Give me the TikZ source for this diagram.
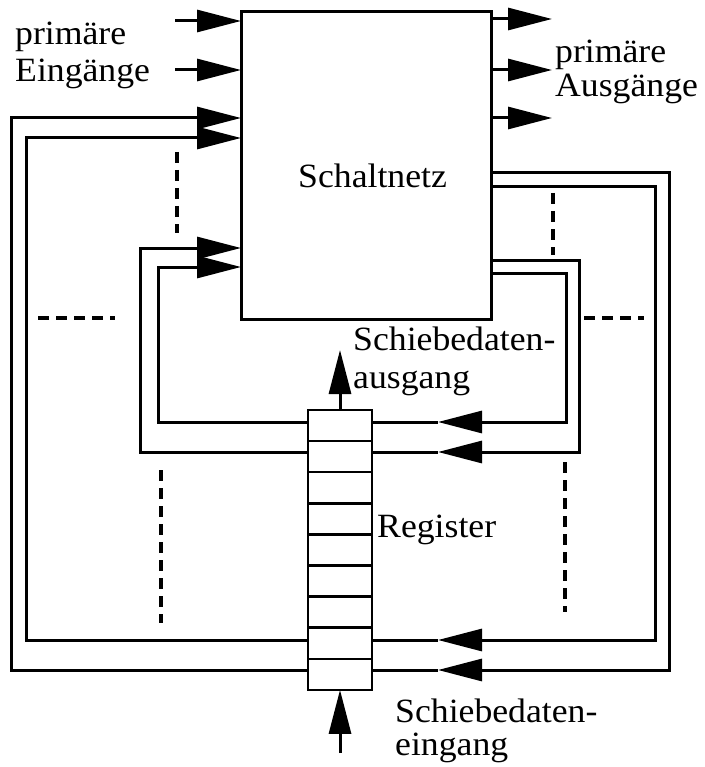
\documentclass[tikz,border=0pt]{standalone}
\usepackage{fontspec}
\setmainfont{Liberation Serif}[FakeStretch=1.05]
\usetikzlibrary{arrows.meta}

\tikzset{
  wire/.style={line width=3pt},
  arr/.style={wire, -{Triangle[length=44pt,width=22pt]}},
  dots/.style={line width=4.5pt, dash pattern=on 11pt off 7pt},
  cell/.style={draw, line width=2.5pt, minimum width=64pt, minimum height=31.1pt,
               inner sep=0pt, outer sep=0pt},
  lbl/.style={inner sep=0pt, anchor=base west, align=left,
              font=\fontsize{34}{36}\selectfont},
}

\begin{document}
\begin{tikzpicture}[x=1pt, y=-1pt]
\useasboundingbox (0,0) rectangle (704,767);

% combinational network
\node[draw, line width=3pt, minimum width=250pt, minimum height=307pt,
      inner sep=0pt, outer sep=0pt] (net) at (366,165.5) {};
\node[lbl] (nettxt) at (298,188) {Schaltnetz};

% scan register: nine stacked cells
\node[cell] (c1) at (340,425.55) {};
\foreach \i [remember=\i as \j (initially 1)] in {2,...,9}
  \node[cell, anchor=north] (c\i) at (c\j.south) {};
\node[lbl] (regtxt) at (377,537) {Register};

% primary inputs and outputs (two-line labels: base = last line)
\coordinate (pi1) at (175,21);
\coordinate (pi2) at (175,70);
\draw[arr] (pi1) -- (pi1 -| net.west);
\draw[arr] (pi2) -- (pi2 -| net.west);
\coordinate (po1) at (552,19);
\coordinate (po2) at (552,70);
\coordinate (po3) at (552,118);
\draw[arr] (po1 -| net.east) -- (po1);
\draw[arr] (po2 -| net.east) -- (po2);
\draw[arr] (po3 -| net.east) -- (po3);
\node[lbl, font=\fontsize{34}{37}\selectfont] (pin) at (15,82) {primäre\\Eingänge};
\node[lbl, font=\fontsize{34}{34}\selectfont] (pout) at (555,97) {primäre\\Ausgänge};

% feedback loops through the register
% loop A (outermost)
\coordinate (aO) at (669,173);
\coordinate (aB) at (438,670);
\coordinate (aL) at (11,118);
\draw[arr] (aO -| net.east) -- (aO) |- (aB);
\draw[wire] (aB) -- (aB -| c9.east);
\draw[arr] (aB -| c9.west) -| (aL) -- (aL -| net.west);
% loop B
\coordinate (bO) at (655,187);
\coordinate (bB) at (438,640);
\coordinate (bL) at (26,138);
\draw[arr] (bO -| net.east) -- (bO) |- (bB);
\draw[wire] (bB) -- (bB -| c8.east);
\draw[arr] (bB -| c8.west) -| (bL) -- (bL -| net.west);
% loop C
\coordinate (cO) at (579,260);
\coordinate (cB) at (438,452);
\coordinate (cL) at (140,248);
\draw[arr] (cO -| net.east) -- (cO) |- (cB);
\draw[wire] (cB) -- (cB -| c2.east);
\draw[arr] (cB -| c2.west) -| (cL) -- (cL -| net.west);
% loop D (innermost)
\coordinate (dO) at (566,273);
\coordinate (dB) at (438,422);
\coordinate (dL) at (158,267);
\draw[arr] (dO -| net.east) -- (dO) |- (dB);
\draw[wire] (dB) -- (dB -| c1.east);
\draw[arr] (dB -| c1.west) -| (dL) -- (dL -| net.west);

% scan data out / in
\coordinate (sout) at (340,350);
\draw[arr] (c1.north) -- (sout);
\node[lbl, font=\fontsize{34}{38}\selectfont] (souttxt) at (353,388) {Schiebedaten-\\ausgang};
\coordinate (sin) at (340,753);
\draw[arr] (sin) -- (c9.south);
\node[lbl, font=\fontsize{34}{33}\selectfont] (sintxt) at (395,755) {Schiebedaten-\\eingang};

% omitted further lines
\draw[dots] (177,152) -- (177,233);
\draw[dots] (553,193) -- (553,255);
\draw[dots] (38,318) -- (115,318);
\draw[dots] (584,318) -- (644,318);
\draw[dots] (161,470) -- (161,623);
\draw[dots] (565,462) -- (565,612);
\end{tikzpicture}
\end{document}
